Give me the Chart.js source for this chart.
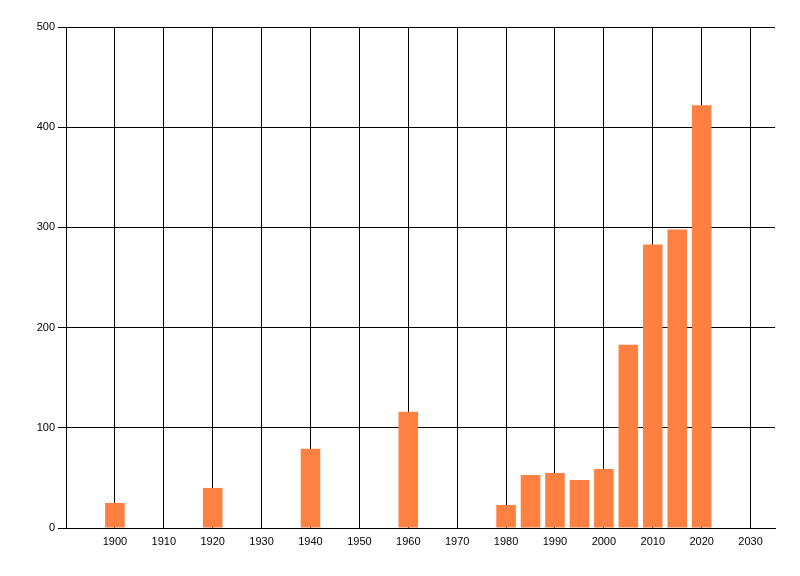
<!DOCTYPE html>
<html>
<head>
    <title>Bars by year</title>
    <style>
        html, body { margin: 0; padding: 0; background: #fff; }
        #wrap { width: 800px; height: 576px; }
    </style>
</head>
<body>
    <div id="wrap"><canvas id="chart"></canvas></div>

    <script src="https://cdn.jsdelivr.net/npm/chart.js@4/dist/chart.umd.min.js"></script>
    <script>
        const years = [1900, 1920, 1940, 1960, 1980, 1985, 1990, 1995, 2000, 2005, 2010, 2015, 2020];
        const counts = [25, 40, 79, 116, 23, 53, 55, 48, 59, 183, 283, 298, 422];
        const xTicks = [1900, 1910, 1920, 1930, 1940, 1950, 1960, 1970, 1980, 1990, 2000, 2010, 2020, 2030];
        const yTicks = [0, 100, 200, 300, 400, 500];

        const points = years.map((yr, i) => ({ x: yr, y: counts[i] }));

        Chart.defaults.font.family = '"Liberation Sans", Arial, sans-serif';
        Chart.defaults.font.size = 11;
        Chart.defaults.color = '#000';

        const ctx = document.getElementById('chart').getContext('2d');
        new Chart(ctx, {
            type: 'bar',
            data: {
                datasets: [{
                    data: points,
                    backgroundColor: 'rgb(255,128,64)',
                    borderWidth: 0,
                    barPercentage: 0.8,
                    categoryPercentage: 1.0
                }]
            },
            options: {
                responsive: true,
                maintainAspectRatio: false,
                animation: false,
                layout: { padding: { left: 0, right: 25, top: 27, bottom: 0 } },
                plugins: { legend: { display: false }, tooltip: { enabled: false } },
                scales: {
                    x: {
                        type: 'linear',
                        min: 1890,
                        max: 2035,
                        offset: false,
                        afterBuildTicks: s => { s.ticks = xTicks.map(v => ({ value: v })); },
                        afterFit: s => { s.height = 48; },
                        grid: { color: '#000', lineWidth: 1, drawTicks: false, offset: false },
                        border: { color: '#000', width: 1 },
                        ticks: { padding: 7, maxRotation: 0, autoSkip: false, callback: v => String(v) }
                    },
                    y: {
                        min: 0,
                        max: 500,
                        afterBuildTicks: s => { s.ticks = yTicks.map(v => ({ value: v })); },
                        afterFit: s => { s.width = 66; },
                        grid: { color: '#000', lineWidth: 1, tickLength: 8 },
                        border: { color: '#000', width: 1 },
                        ticks: { padding: 3, callback: v => String(v) }
                    }
                }
            }
        });
    </script>
</body>
</html>
